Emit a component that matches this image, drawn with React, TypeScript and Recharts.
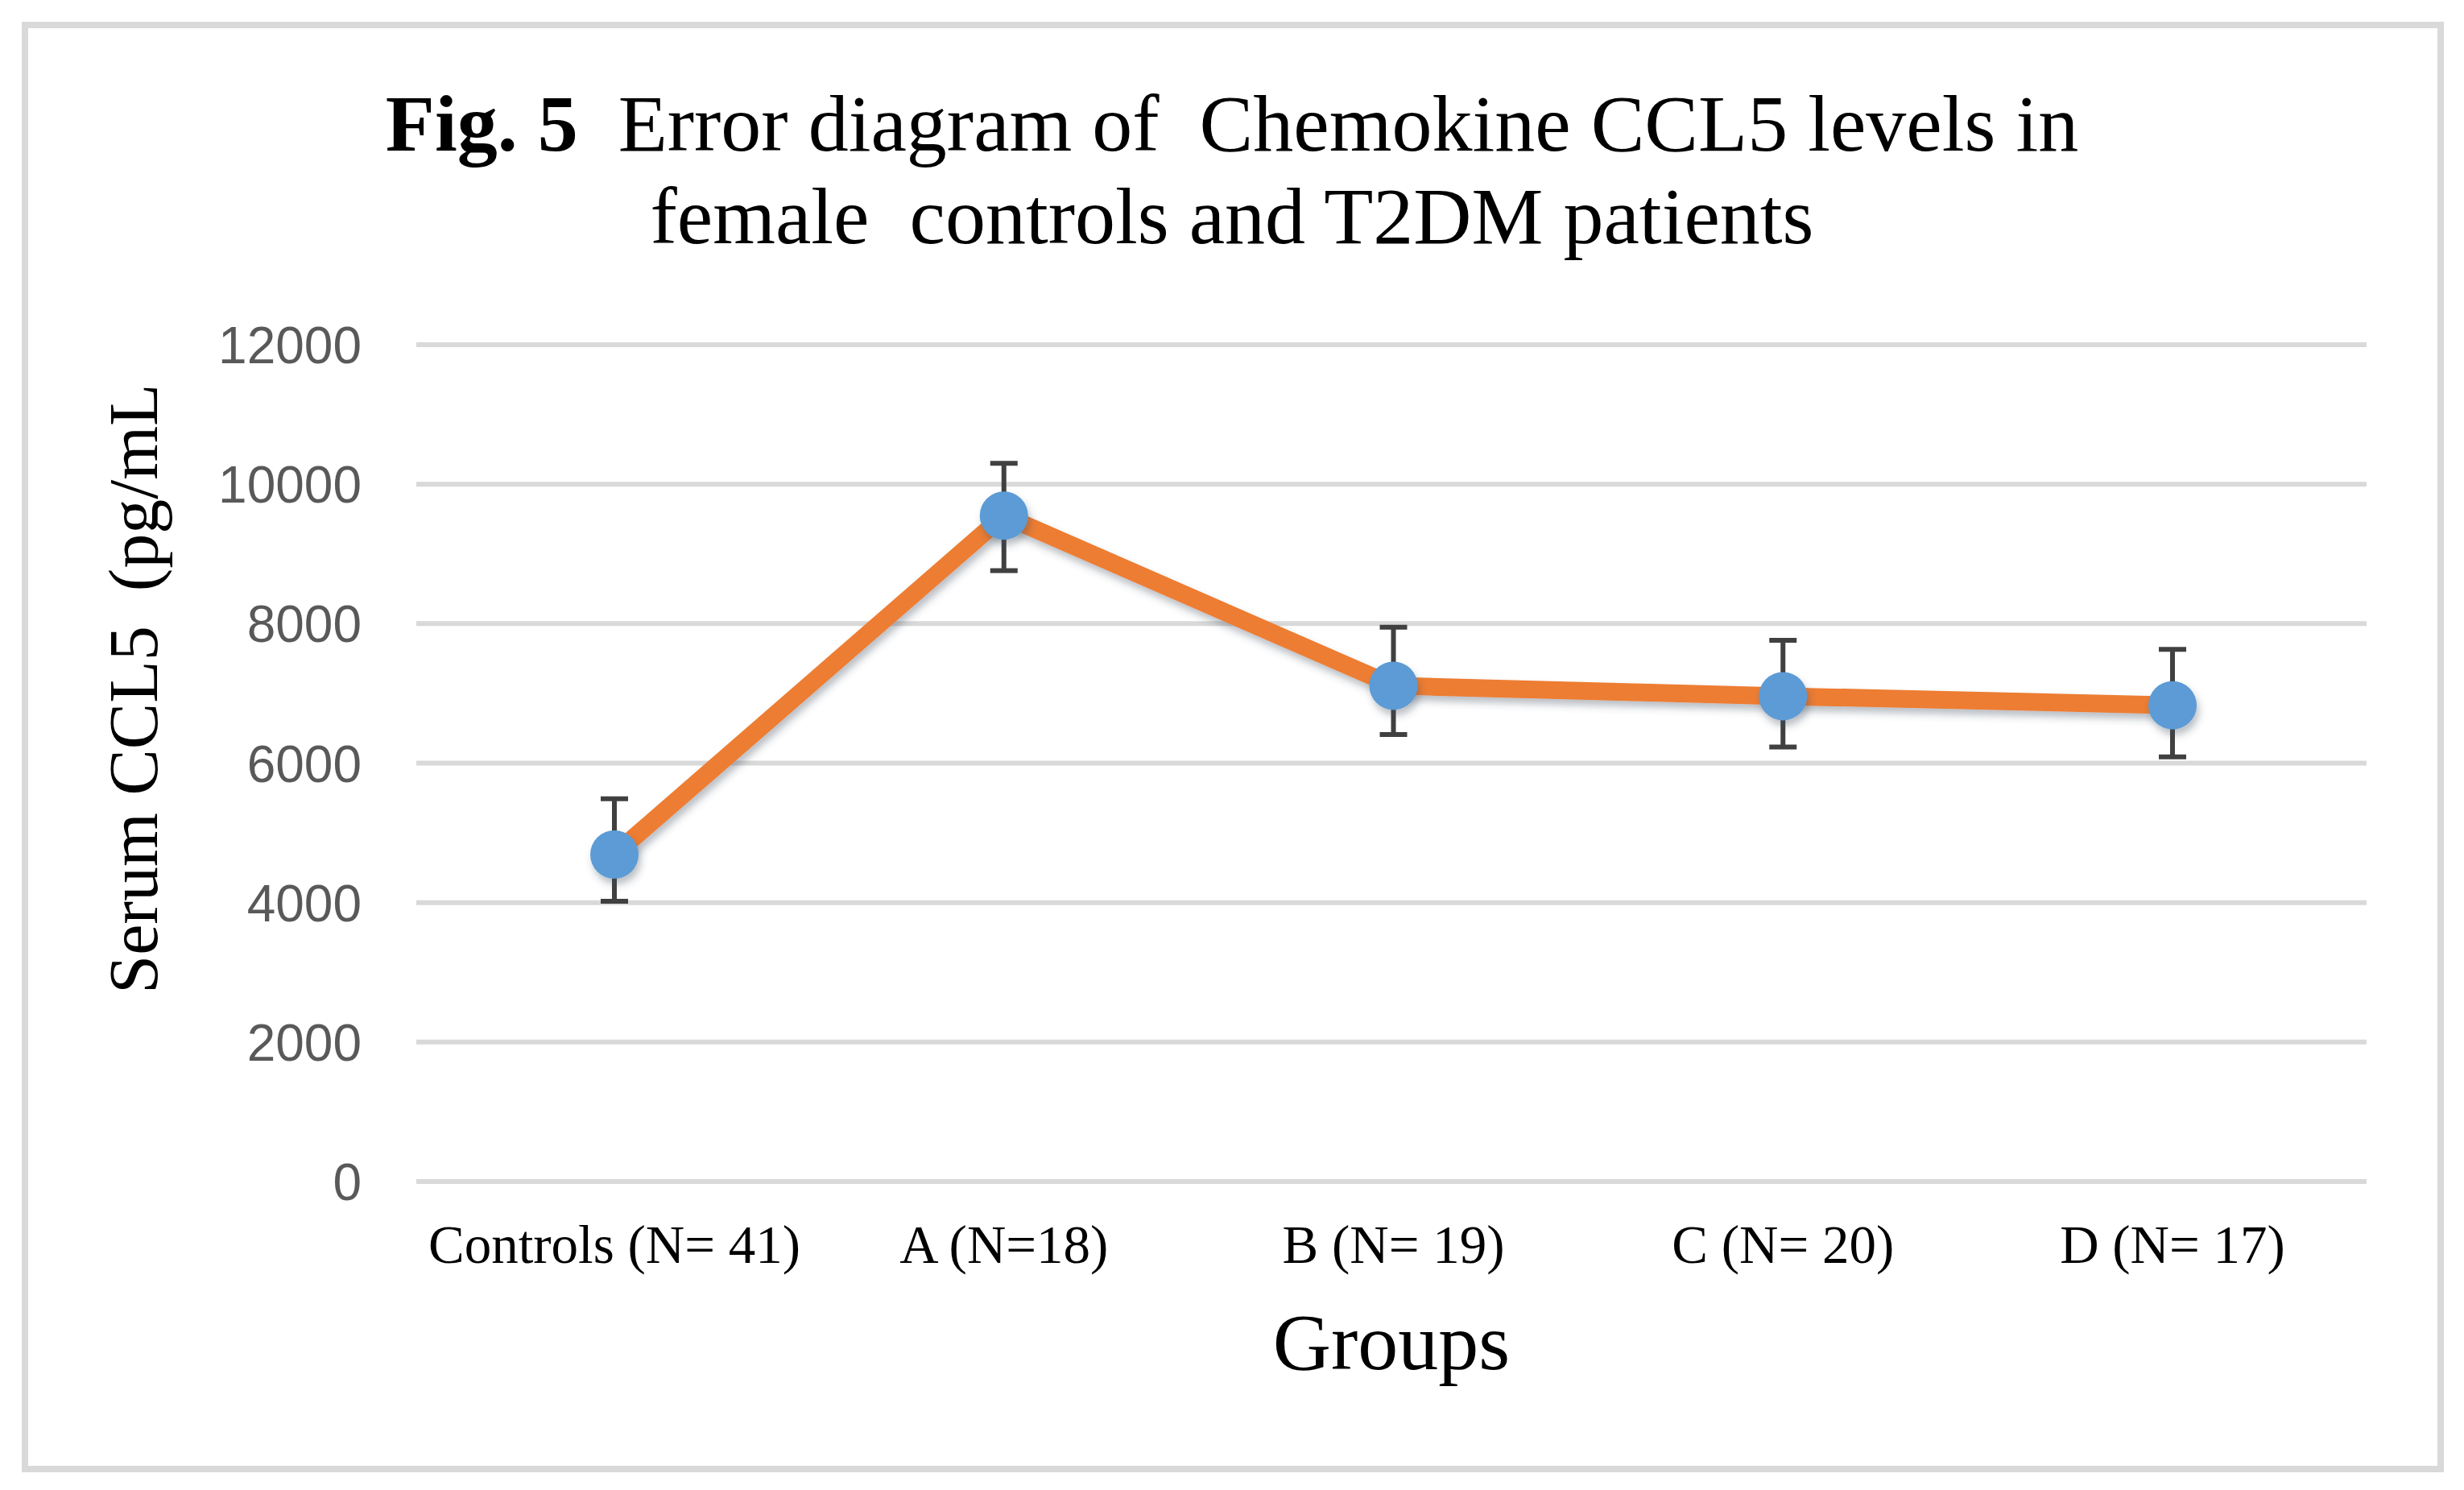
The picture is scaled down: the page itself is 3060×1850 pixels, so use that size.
import React from 'react';
import { LineChart, Line, XAxis, YAxis, CartesianGrid, ErrorBar, Label } from 'recharts';

const groups = ['Controls (N= 41)', 'A (N=18)', 'B (N= 19)', 'C (N= 20)', 'D (N= 17)'];
const ccl5Means = [4690, 9550, 7110, 6960, 6830];
// error bar extents below / above the mean
const ccl5ErrLow = [670, 790, 700, 730, 740];
const ccl5ErrHigh = [800, 750, 840, 800, 800];
const yTicks = [0, 2000, 4000, 6000, 8000, 10000, 12000];

const data = groups.map((group, i) => ({
  group,
  mean: ccl5Means[i],
  err: [ccl5ErrLow[i], ccl5ErrHigh[i]],
}));

const W = 3060;
const H = 1850;
const serif = '"Liberation Serif", "Times New Roman", serif';
const sans = '"Liberation Sans", Arial, sans-serif';

function XTick({ x, y, payload }: any) {
  return (
    <text x={x} y={y + 101} textAnchor="middle" fontFamily={serif} fontSize={67} fill="#000">
      {payload.value}
    </text>
  );
}

function YTick({ x, y, payload }: any) {
  return (
    <text x={x} y={y} dy={23} textAnchor="end" fontFamily={sans} fontSize={64} fill="#595959">
      {payload.value}
    </text>
  );
}

function YTitle({ viewBox }: any) {
  const cx = viewBox.x + 195;
  const cy = 855;
  return (
    <text
      x={cx}
      y={cy}
      transform={`rotate(-90 ${cx} ${cy})`}
      textAnchor="middle"
      fontFamily={serif}
      fontSize={86}
      fill="#000"
      style={{ whiteSpace: 'pre' }}
    >
      Serum CCL5  (pg/mL
    </text>
  );
}

export default function App() {
  return (
    <div style={{ position: 'absolute', left: 0, top: 0, width: W, height: H, background: '#fff' }}>
      <svg width={W} height={H} style={{ position: 'absolute', left: 0, top: 0 }}>
        <rect x={31} y={31} width={3000} height={1793} fill="#fff" stroke="#d9d9d9" strokeWidth={8} />
        <text x={1530} y={187} textAnchor="middle" fontFamily={serif} fontSize={100} fill="#000" style={{ whiteSpace: 'pre' }}>
          <tspan fontWeight="bold">Fig. 5</tspan>
          <tspan>  Error diagram of  Chemokine CCL5 levels in</tspan>
        </text>
        <text x={1530} y={302} textAnchor="middle" fontFamily={serif} fontSize={100} fill="#000" style={{ whiteSpace: 'pre' }}>
          female  controls and T2DM patients
        </text>
      </svg>
      <div style={{ position: 'absolute', left: 0, top: 0 }}>
        <LineChart width={W} height={H} data={data} margin={{ top: 428, right: 121, bottom: 0, left: 0 }}>
          <defs>
            <filter id="soft-shadow" x="-20%" y="-20%" width="140%" height="160%">
              <feDropShadow dx={3} dy={7} stdDeviation={5} floodColor="#3a4a5a" floodOpacity={0.35} />
            </filter>
          </defs>
          <CartesianGrid vertical={false} stroke="#d9d9d9" strokeWidth={6} />
          <XAxis
            dataKey="group"
            height={383}
            axisLine={false}
            tickLine={false}
            tickSize={0}
            tickMargin={0}
            padding={{ left: 246, right: 241 }}
            tick={<XTick />}
            interval={0}
          >
            <Label value="Groups" position="insideBottom" offset={150} fontFamily={serif} fontSize={100} fill="#000" />
          </XAxis>
          <YAxis
            width={517}
            domain={[0, 12000]}
            ticks={yTicks}
            axisLine={false}
            tickLine={false}
            tickSize={0}
            tickMargin={68}
            tick={<YTick />}
            interval={0}
          >
            <Label content={<YTitle />} />
          </YAxis>
          <Line
            type="linear"
            dataKey="mean"
            stroke="#ED7D31"
            strokeWidth={22}
            filter="url(#soft-shadow)"
            dot={{ r: 30, fill: '#5B9BD5', stroke: 'none', strokeWidth: 0, filter: 'url(#soft-shadow)' }}
            activeDot={false}
            isAnimationActive={false}
          >
            <ErrorBar dataKey="err" direction="y" width={17} strokeWidth={6} stroke="#404040" isAnimationActive={false} />
          </Line>
        </LineChart>
      </div>
    </div>
  );
}
